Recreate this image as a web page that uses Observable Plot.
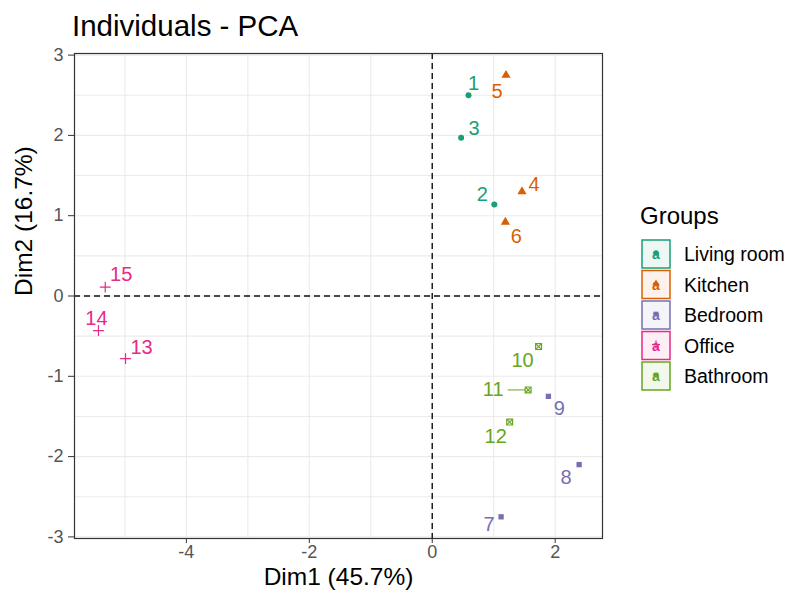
<!DOCTYPE html>
<html>
<head>
<meta charset="utf-8">
<script src="https://cdn.jsdelivr.net/npm/d3@7"></script>
<script src="https://cdn.jsdelivr.net/npm/@observablehq/plot@0.6"></script>
<style>
  body { margin: 0; background: #fff; font-family: "Liberation Sans", Arial, sans-serif; }
  #wrap { position: relative; width: 786px; height: 595px; }
  #title { height: 45px; box-sizing: border-box; padding-left: 72px; padding-top: 11px; font-size: 29.5px; color: #000; line-height: 1; white-space: nowrap; }
  #legend { position: absolute; left: 628px; top: 196px; }
</style>
</head>
<body>
<div id="wrap">
  <div id="title">Individuals - PCA</div>
  <div id="chart"></div>
  <div id="legend"></div>
</div>
<script>
// ---- data ----
const ids    = ["1","2","3","4","5","6","7","8","9","10","11","12","13","14","15"];
const dim1   = [0.59, 1.01, 0.47, 1.46, 1.20, 1.19, 1.12, 2.39, 1.89, 1.73, 1.56, 1.26, -4.99, -5.43, -5.32];
const dim2   = [2.50, 1.14, 1.97, 1.30, 2.75, 0.92, -2.75, -2.10, -1.25, -0.63, -1.17, -1.57, -0.78, -0.43, 0.11];
const groupOf = ["Living room","Living room","Living room","Kitchen","Kitchen","Kitchen",
                 "Bedroom","Bedroom","Bedroom","Bathroom","Bathroom","Bathroom",
                 "Office","Office","Office"];
const groups = ["Living room","Kitchen","Bedroom","Office","Bathroom"];
const groupColors = ["#1B9E77","#D95F02","#7570B3","#E7298A","#66A61E"];
const groupSymbols = ["circle","triangle","square","plus","square"];
// label placement offsets (px), as a repel layout would place them
const labelDx = [5, -12, 13, 12, -9, 11, -12, -13, 11, -16, -35, -14, 16, -2, 16];
const labelDy = [-12, -10, -9, -7, 16, 14, 8, 13, 12, 14, 0, 15, -11, -12, -13];
const xTicks = [-4, -2, 0, 2];
const yTicks = [-3, -2, -1, 0, 1, 2, 3];
const xGrid = [-5, -4, -3, -2, -1, 0, 1, 2];
const yGrid = [-3, -2.5, -2, -1.5, -1, -0.5, 0, 0.5, 1, 1.5, 2, 2.5, 3];
const xDomain = [-5.82, 2.77];
const yDomain = [-3.02, 3.02];

const rows = ids.map((id, i) => ({id, x: dim1[i], y: dim2[i], group: groupOf[i], dx: labelDx[i], dy: labelDy[i]}));
const colorOf = g => groupColors[groups.indexOf(g)];
const fmt = d => String(d);

const W = 786, H = 550;
const mL = 74, mR = 786 - 602, mT = 8, mB = 57;
const xs = Plot.scale({x: {domain: xDomain, range: [mL, W - mR]}});

// connector for label 11 (label pushed far from its point)
const connectors = rows.filter(d => Math.abs(d.dx) > 25).map(d => ({
  y: d.y, x1: d.x, x2: xs.invert(xs.apply(d.x) + d.dx + 15)
}));

const textMarks = rows.map(d => Plot.text([d], {
  x: "x", y: "y", text: "id", dx: d.dx, dy: d.dy,
  fill: colorOf(d.group), fontSize: 20
}));

const chart = Plot.plot({
  width: W, height: H,
  marginLeft: mL, marginRight: mR, marginTop: mT, marginBottom: mB,
  style: {fontFamily: '"Liberation Sans", Arial, sans-serif', background: "white"},
  x: {domain: xDomain, label: null},
  y: {domain: yDomain, label: null},
  marks: [
    Plot.ruleX(xGrid, {stroke: "#ebebeb", strokeWidth: 1.1}),
    Plot.ruleY(yGrid, {stroke: "#ebebeb", strokeWidth: 1.1}),
    Plot.ruleX([0], {stroke: "#111", strokeWidth: 1.4, strokeDasharray: "6,4"}),
    Plot.ruleY([0], {stroke: "#111", strokeWidth: 1.4, strokeDasharray: "6,4"}),
    Plot.frame({stroke: "#333", strokeWidth: 1.2}),
    Plot.ruleY(connectors, {y: "y", x1: "x1", x2: "x2", stroke: colorOf("Bathroom"), strokeWidth: 1}),
    ...groups.map((g, gi) => {
      const sub = rows.filter(d => d.group === g);
      const sym = groupSymbols[gi];
      if (g === "Bathroom") {
        return [
          Plot.dot(sub, {x: "x", y: "y", symbol: "square", r: 3.3, stroke: groupColors[gi], fill: "white", strokeWidth: 1.2}),
          Plot.dot(sub, {x: "x", y: "y", symbol: "times", r: 2.4, stroke: groupColors[gi], strokeWidth: 1.2})
        ];
      }
      if (sym === "plus") {
        return Plot.dot(sub, {x: "x", y: "y", symbol: "plus", r: 3.6, stroke: groupColors[gi], strokeWidth: 1.2});
      }
      return Plot.dot(sub, {x: "x", y: "y", symbol: sym, r: sym === "triangle" ? 3.4 : 3.0, fill: groupColors[gi], stroke: "none"});
    }).flat(),
    ...textMarks,
    Plot.axisX({ticks: xTicks, tickFormat: () => "", tickSize: 5, stroke: "#333", label: null}),
    Plot.axisY({ticks: yTicks, tickFormat: () => "", tickSize: 6, stroke: "#333", label: null}),
    Plot.text(xTicks, {x: d => d, text: fmt, frameAnchor: "bottom", dy: 19, fontSize: 18, fill: "#555"}),
    Plot.text(yTicks, {y: d => d, text: fmt, frameAnchor: "left", dx: -11, textAnchor: "end", fontSize: 18, fill: "#555"}),
    Plot.text(["Dim1 (45.7%)"], {frameAnchor: "bottom", dy: 46, fontSize: 24.5, fill: "#000"}),
    Plot.text(["Dim2 (16.7%)"], {frameAnchor: "left", dx: -50, rotate: -90, fontSize: 24.5, fill: "#000"})
  ]
});
chart.style.overflow = "visible";
document.getElementById("chart").appendChild(chart);

// ---- legend ----
const lg = d3.select("#legend").append("svg").attr("width", 158).attr("height", 200)
  .style("font-family", '"Liberation Sans", Arial, sans-serif');
lg.append("text").attr("x", 12).attr("y", 27.5).attr("font-size", 24).attr("fill", "#000").text("Groups");
groups.forEach((g, i) => {
  const c = groupColors[i];
  const cy = 58 + i * 30.5;
  const row = lg.append("g").attr("transform", `translate(0,${cy})`);
  row.append("rect").attr("x", 14).attr("y", -14).attr("width", 28).attr("height", 28)
    .attr("fill", c).attr("fill-opacity", 0.08).attr("stroke", c).attr("stroke-width", 1.5);
  row.append("text").attr("x", 28).attr("y", 5).attr("text-anchor", "middle")
    .attr("font-size", 14).attr("font-weight", "bold").attr("fill", c).text("a");
  const s = groupSymbols[i];
  const symMap = {circle: d3.symbolCircle, triangle: d3.symbolTriangle, square: d3.symbolSquare};
  if (s === "plus") {
    row.append("path").attr("transform", "translate(28,-1)").attr("d", "M-4,0H4M0,-4V4").attr("stroke", c).attr("stroke-width", 1.2);
  } else {
    row.append("path").attr("transform", "translate(28,-1)").attr("d", d3.symbol(symMap[s], 22)()).attr("fill", c);
  }
  row.append("text").attr("x", 56).attr("y", 7).attr("font-size", 19.5).attr("fill", "#000").text(g);
});
</script>
</body>
</html>
